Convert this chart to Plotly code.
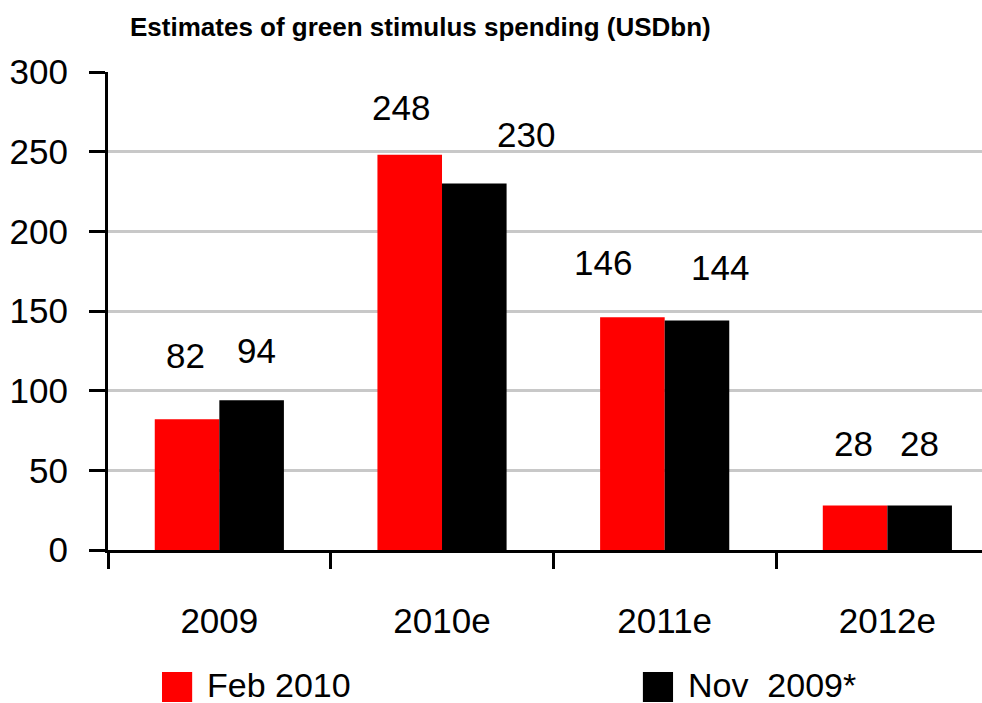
import plotly.graph_objects as go

# Data
categories = ["2009", "2010e", "2011e", "2012e"]
feb_2010 = [82, 248, 146, 28]
nov_2009 = [94, 230, 144, 28]
series_names = ["Feb 2010", "Nov  2009*"]
y_ticks = [0, 50, 100, 150, 200, 250, 300]

# Label placement (pixel offsets from each bar top / centre)
feb_label_dx = [-2, -9, -30, -2]
feb_label_dy = [64, 47, 55, 62]
nov_label_dx = [5, 52, 23, 0]
nov_label_dy = [50, 49, 53, 62]

RED = "#FF0000"
BLACK = "#000000"
FONT = "Liberation Sans, Arial, sans-serif"
BIG = 35

fig = go.Figure()
fig.add_trace(go.Bar(x=categories, y=feb_2010, name=series_names[0],
                     marker=dict(color=RED, line=dict(width=0)), showlegend=False))
fig.add_trace(go.Bar(x=categories, y=nov_2009, name=series_names[1],
                     marker=dict(color=BLACK, line=dict(width=0)), showlegend=False))

annotations = []
for i in range(len(categories)):
    annotations.append(dict(x=i, y=feb_2010[i], xref="x", yref="y", text=str(feb_2010[i]),
                            showarrow=False, xshift=-32 + feb_label_dx[i], yshift=feb_label_dy[i],
                            font=dict(family=FONT, size=BIG, color="black")))
    annotations.append(dict(x=i, y=nov_2009[i], xref="x", yref="y", text=str(nov_2009[i]),
                            showarrow=False, xshift=32 + nov_label_dx[i], yshift=nov_label_dy[i],
                            font=dict(family=FONT, size=BIG, color="black")))

# Chart title
annotations.append(dict(x=0.023, y=1.094, xref="paper", yref="paper", xanchor="left", yanchor="middle",
                        text="<b>Estimates of green stimulus spending (USDbn)</b>", showarrow=False,
                        font=dict(family=FONT, size=26, color="black")))

# Hand-drawn legend
legend_items = [(series_names[0], RED, 0.0618), (series_names[1], BLACK, 0.612)]
shapes = []
for name, color, x0 in legend_items:
    shapes.append(dict(type="rect", xref="paper", yref="paper", x0=x0, x1=x0 + 0.0345,
                       y0=-0.318, y1=-0.2552, fillcolor=color, line=dict(width=0)))
    annotations.append(dict(x=x0 + 0.049, y=-0.283, xref="paper", yref="paper",
                            xanchor="left", yanchor="middle", text=name, showarrow=False,
                            font=dict(family=FONT, size=34, color="black")))

fig.update_layout(
    width=982, height=703,
    margin=dict(l=108, r=0, t=72, b=153),
    paper_bgcolor="white", plot_bgcolor="white",
    barmode="group", bargap=0.42, bargroupgap=0,
    annotations=annotations, shapes=shapes,
    font=dict(family=FONT, size=BIG, color="black"),
)
fig.update_xaxes(
    type="category", range=[-0.5, 3.425], showline=True, linecolor="black", linewidth=3,
    ticks="outside", tickson="boundaries", ticklen=16, tickwidth=3, tickcolor="black",
    ticklabelstandoff=38, tickfont=dict(family=FONT, size=BIG, color="black"),
    showgrid=False, zeroline=False,
)
fig.update_yaxes(
    range=[0, 300], tickvals=y_ticks, showline=True, linecolor="black", linewidth=3,
    ticks="outside", ticklen=16, tickwidth=3, tickcolor="black",
    ticklabelstandoff=14, tickfont=dict(family=FONT, size=BIG, color="black"),
    showgrid=True, gridcolor="#C8C8C8", gridwidth=3, zeroline=False,
)

fig.write_html("out.html")
